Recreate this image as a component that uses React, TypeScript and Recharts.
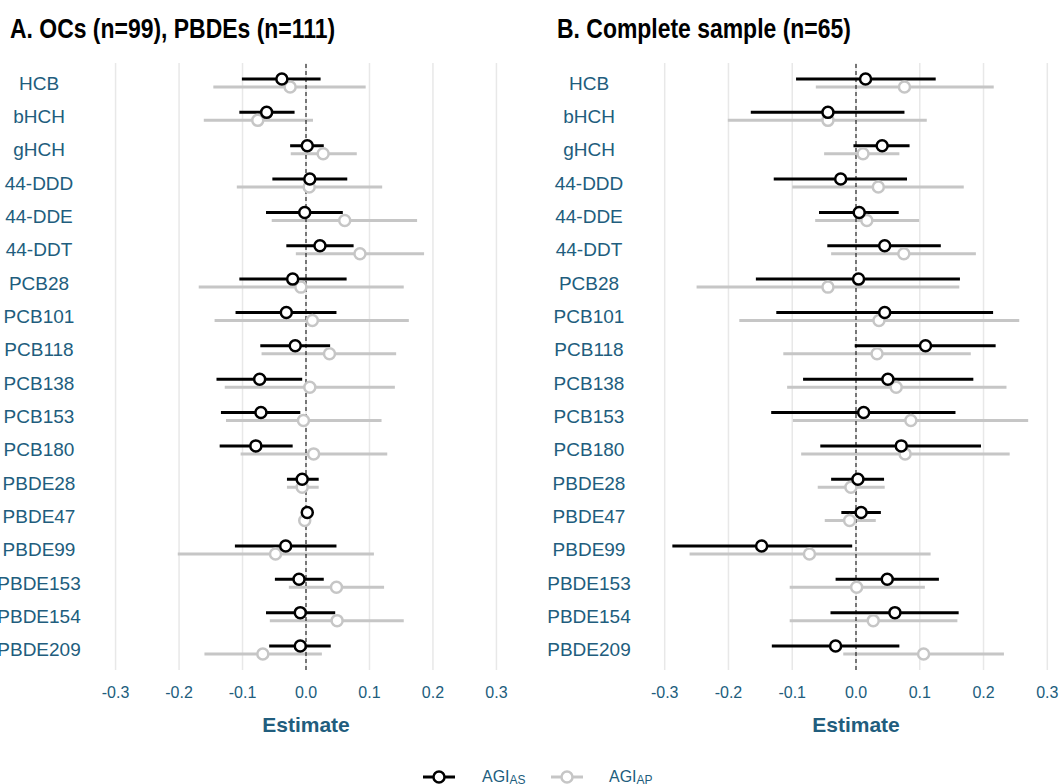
import {
  CartesianGrid,
  ErrorBar,
  ReferenceLine,
  Scatter,
  ScatterChart,
  XAxis,
  YAxis,
} from "recharts";

const compounds = [
  "HCB", "bHCH", "gHCH", "44-DDD", "44-DDE", "44-DDT", "PCB28", "PCB101", "PCB118",
  "PCB138", "PCB153", "PCB180", "PBDE28", "PBDE47", "PBDE99", "PBDE153", "PBDE154", "PBDE209",
];
const xTicks = [-0.3, -0.2, -0.1, 0, 0.1, 0.2, 0.3];

// panel A: OCs (n=99), PBDEs (n=111)
const aAsEst = [-0.038, -0.062, 0.002, 0.006, -0.002, 0.022, -0.021, -0.031, -0.017, -0.073, -0.071, -0.079, -0.006, 0.002, -0.032, -0.011, -0.009, -0.009];
const aAsLo = [-0.101, -0.105, -0.025, -0.053, -0.063, -0.031, -0.105, -0.111, -0.072, -0.141, -0.134, -0.136, -0.030, -0.004, -0.112, -0.049, -0.063, -0.058];
const aAsHi = [0.023, -0.018, 0.028, 0.065, 0.058, 0.075, 0.064, 0.048, 0.038, -0.006, -0.009, -0.021, 0.020, 0.008, 0.048, 0.028, 0.046, 0.039];
const aApEst = [-0.025, -0.076, 0.027, 0.005, 0.061, 0.085, -0.008, 0.010, 0.037, 0.006, -0.004, 0.012, -0.006, -0.002, -0.048, 0.048, 0.049, -0.068];
const aApLo = [-0.146, -0.161, -0.024, -0.109, -0.054, -0.016, -0.169, -0.144, -0.070, -0.128, -0.126, -0.103, -0.030, -0.008, -0.202, -0.027, -0.057, -0.160];
const aApHi = [0.094, 0.011, 0.080, 0.120, 0.175, 0.186, 0.154, 0.162, 0.142, 0.140, 0.119, 0.128, 0.020, 0.004, 0.107, 0.123, 0.154, 0.025];

// panel B: complete sample (n=65)
const bAsEst = [0.015, -0.044, 0.041, -0.024, 0.005, 0.045, 0.004, 0.045, 0.109, 0.050, 0.012, 0.071, 0.003, 0.008, -0.148, 0.049, 0.061, -0.032];
const bAsLo = [-0.094, -0.165, -0.004, -0.129, -0.058, -0.045, -0.157, -0.125, -0.002, -0.083, -0.133, -0.056, -0.039, -0.023, -0.288, -0.032, -0.040, -0.132];
const bAsHi = [0.125, 0.076, 0.084, 0.080, 0.067, 0.133, 0.163, 0.215, 0.219, 0.184, 0.156, 0.196, 0.044, 0.039, -0.006, 0.130, 0.161, 0.068];
const bApEst = [0.076, -0.044, 0.011, 0.035, 0.017, 0.075, -0.044, 0.036, 0.033, 0.063, 0.086, 0.077, -0.008, -0.010, -0.073, 0.001, 0.027, 0.106];
const bApLo = [-0.063, -0.201, -0.050, -0.100, -0.064, -0.039, -0.250, -0.183, -0.114, -0.108, -0.099, -0.086, -0.060, -0.049, -0.261, -0.104, -0.104, -0.020];
const bApHi = [0.216, 0.111, 0.068, 0.169, 0.099, 0.188, 0.162, 0.256, 0.180, 0.236, 0.270, 0.241, 0.045, 0.031, 0.117, 0.108, 0.159, 0.232];

const BLUE = "#215d7d";
const GREY = "#c6c6c6";
const FONT = "'Liberation Sans', Arial, Helvetica, sans-serif";

// dodge: AGI_AS slightly above the row, AGI_AP slightly below
const toRows = (est: number[], lo: number[], hi: number[], dodge: number) =>
  est.map((value, i) => ({
    row: i + dodge,
    est: value,
    err: [value - lo[i], hi[i] - value],
  }));

const dot = (color: string) => (props: any) => (
  <circle cx={props.cx} cy={props.cy} r={5.5} fill="#fff" stroke={color} strokeWidth={2.5} />
);

function Panel({
  asRows,
  apRows,
  width,
  axisWidth,
  labelX,
  right,
}: {
  asRows: ReturnType<typeof toRows>;
  apRows: ReturnType<typeof toRows>;
  width: number;
  axisWidth: number;
  labelX: number;
  right: number;
}) {
  const CompoundTick = (props: any) => (
    <text
      x={labelX}
      y={props.y}
      textAnchor="middle"
      dominantBaseline="central"
      fill={BLUE}
      fontSize={19}
      fontFamily={FONT}
    >
      {compounds[props.payload.value]}
    </text>
  );
  return (
    <ScatterChart width={width} height={740} margin={{ top: 63, right, bottom: 0, left: 0 }}>
      <CartesianGrid
        horizontal={false}
        verticalValues={xTicks}
        stroke="#e8e8e8"
        strokeWidth={1.5}
      />
      <XAxis
        type="number"
        dataKey="est"
        domain={[-0.345, 0.345]}
        ticks={xTicks}
        allowDataOverflow
        tickFormatter={(v: number) => v.toFixed(1)}
        axisLine={false}
        tickLine={false}
        tickSize={0}
        tickMargin={17}
        height={70}
        tick={{ fill: BLUE, fontSize: 16, fontFamily: FONT }}
        label={{
          value: "Estimate",
          position: "insideBottom",
          offset: 8,
          fill: BLUE,
          fontSize: 21,
          fontWeight: 700,
          fontFamily: FONT,
        }}
      />
      <YAxis
        type="number"
        dataKey="row"
        domain={[-0.6, compounds.length - 0.4]}
        ticks={compounds.map((_, i) => i)}
        interval={0}
        reversed
        allowDataOverflow
        axisLine={false}
        tickLine={false}
        width={axisWidth}
        tick={<CompoundTick />}
      />
      <Scatter data={apRows} shape={dot(GREY)} isAnimationActive={false}>
        <ErrorBar dataKey="err" direction="x" width={0} stroke={GREY} strokeWidth={3} />
      </Scatter>
      <Scatter data={asRows} shape={dot("#000")} isAnimationActive={false}>
        <ErrorBar dataKey="err" direction="x" width={0} stroke="#000" strokeWidth={3} />
      </Scatter>
      <ReferenceLine x={0} stroke="#000" strokeWidth={1} strokeDasharray="4 3" />
    </ScatterChart>
  );
}

function LegendKey({ x, color }: { x: number; color: string }) {
  return (
    <g>
      <line x1={x - 16} x2={x + 16} y1={17} y2={17} stroke={color} strokeWidth={3} />
      <circle cx={x} cy={17} r={5.5} fill="#fff" stroke={color} strokeWidth={2.5} />
    </g>
  );
}

function LegendText({ x, sub }: { x: number; sub: string }) {
  return (
    <text x={x} y={22} fill={BLUE} fontSize={16} fontFamily={FONT}>
      AGI
      <tspan fontSize={12} dy={2}>
        {sub}
      </tspan>
    </text>
  );
}

function Title({ x, text }: { x: number; text: string }) {
  return (
    <text
      transform={`translate(${x},38) scale(0.85,1)`}
      fontSize={27}
      fontWeight={700}
      fontFamily={FONT}
      fill="#000"
    >
      {text}
    </text>
  );
}

export default function App() {
  return (
    <div
      style={{
        position: "absolute",
        left: 0,
        top: 0,
        width: 1059,
        height: 784,
        overflow: "hidden",
        background: "#fff",
      }}
    >
      <div style={{ position: "absolute", left: 0, top: 0 }}>
        <Panel
          asRows={toRows(aAsEst, aAsLo, aAsHi, -0.12)}
          apRows={toRows(aApEst, aApLo, aApHi, 0.12)}
          width={530}
          axisWidth={87}
          labelX={39}
          right={5}
        />
      </div>
      <div style={{ position: "absolute", left: 530, top: 0 }}>
        <Panel
          asRows={toRows(bAsEst, bAsLo, bAsHi, -0.12)}
          apRows={toRows(bApEst, bApLo, bApHi, 0.12)}
          width={546}
          axisWidth={106}
          labelX={59}
          right={0}
        />
      </div>
      <svg width={1059} height={50} style={{ position: "absolute", left: 0, top: 0 }}>
        <Title x={10} text="A. OCs (n=99), PBDEs (n=111)" />
        <Title x={557} text="B. Complete sample (n=65)" />
      </svg>
      <svg width={1059} height={30} style={{ position: "absolute", left: 0, top: 760 }}>
        <LegendKey x={439} color="#000" />
        <LegendText x={482} sub="AS" />
        <LegendKey x={567} color={GREY} />
        <LegendText x={609} sub="AP" />
      </svg>
    </div>
  );
}
